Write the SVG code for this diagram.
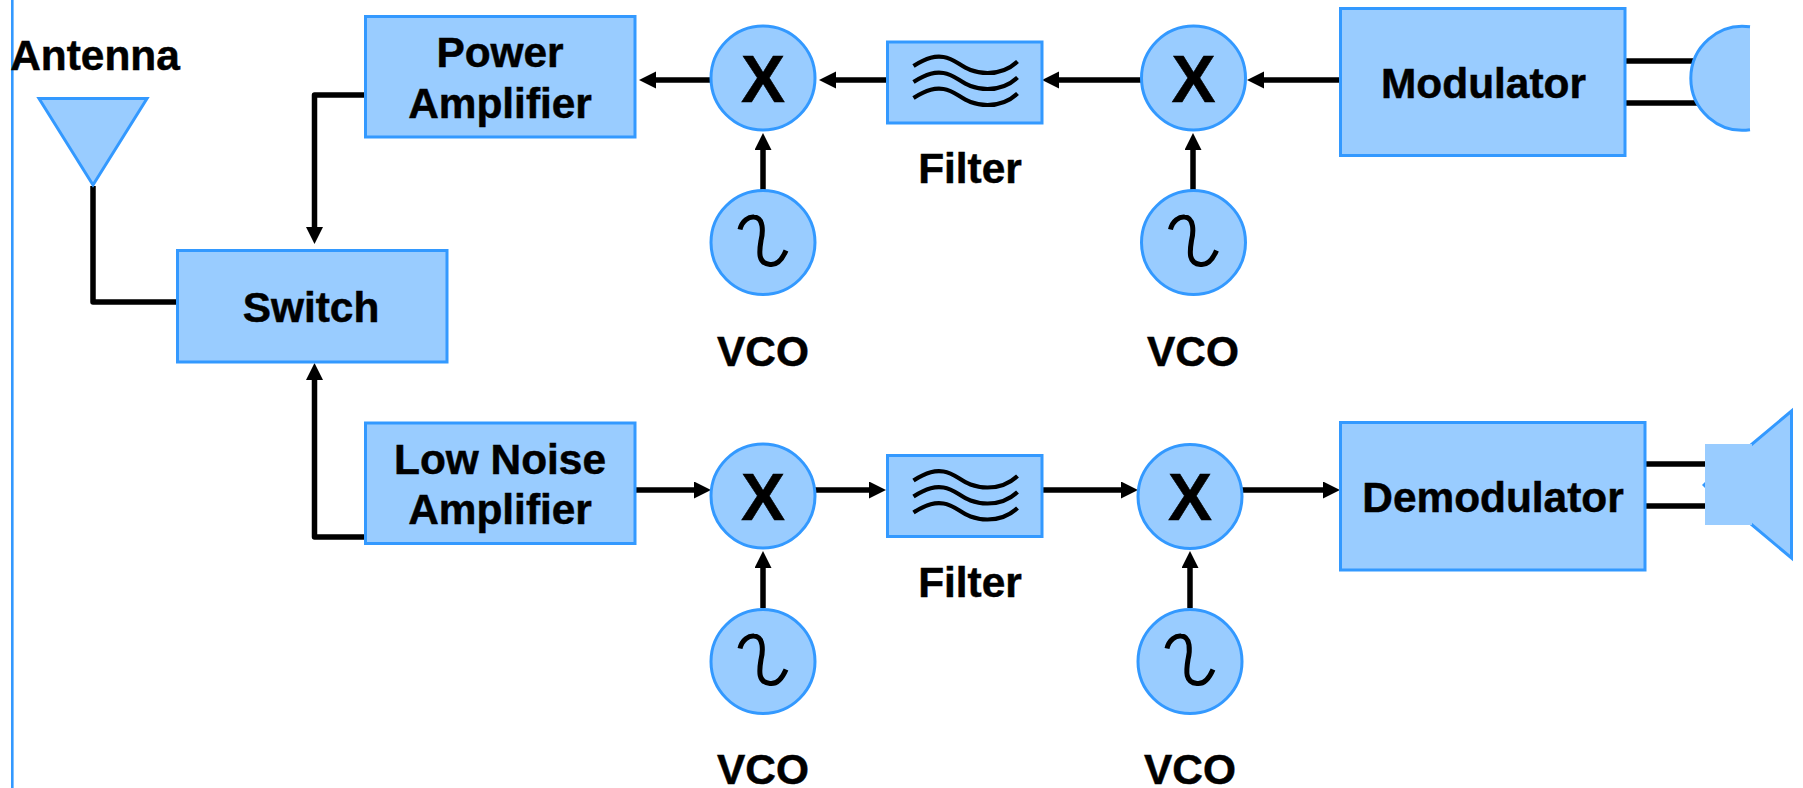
<svg xmlns="http://www.w3.org/2000/svg" width="1803" height="788" viewBox="0 0 1803 788">
<style>
.n{fill:#99CCFF;stroke:#3399FF;stroke-width:3}
.t{font-family:"Liberation Sans",Arial,sans-serif;font-weight:700;font-size:42.4px;fill:#000;stroke:#000;stroke-width:.5;text-anchor:middle}
.x{font-size:66px}
.c{fill:none;stroke:#000;stroke-width:5.5;stroke-linejoin:round}
.a{marker-end:url(#ah)}
.g{fill:none;stroke:#000;stroke-width:4.2}
.v{fill:none;stroke:#000;stroke-width:5}
</style>
<defs>
<marker id="ah" markerUnits="userSpaceOnUse" markerWidth="18" markerHeight="18" refX="0" refY="8.5" orient="auto"><polygon points="0,0 17,8.5 0,17" fill="#000"/></marker>
<path id="w" d="M0,0 C14,-9 22,-10 30,-9 C45,-7 50,7 74,7 C88,7 97,2 104,-4.5"/>
<path id="s" d="M-23,-13 C-21,-22 -14,-26 -9,-25.5 C1,-25 0,-10 -2,-2 C-4,10 -5,21 7,22 C15,23 20,15 23,8"/>
</defs>
<rect id="frame-line" x="11" y="0" width="2.6" height="788" fill="#3399FF"/>
<g id="connectors">
<path class="c" d="M93,186 V302 H177"/>
<path class="c a" d="M365,95 H314.5 V227"/>
<path class="c a" d="M365,537 H314.5 V380"/>
<path class="c a" d="M711,80 H656"/>
<path class="c a" d="M887,80 H836"/>
<path class="c a" d="M1141,80 H1059"/>
<path class="c a" d="M1340,80 H1264"/>
<path class="c a" d="M763,190 V150"/>
<path class="c a" d="M1193,190 V150"/>
<path class="c a" d="M635,490 H694"/>
<path class="c a" d="M815,490 H869"/>
<path class="c a" d="M1042,490 H1121"/>
<path class="c a" d="M1242,490 H1323"/>
<path class="c a" d="M763,608 V568"/>
<path class="c a" d="M1190,608 V568"/>
<path class="c" d="M1625,61 H1700"/>
<path class="c" d="M1625,103 H1700"/>
<path class="c" d="M1645,464 H1706"/>
<path class="c" d="M1645,506 H1706"/>
</g>
<g id="antenna"><polygon class="n" points="39,98.5 147,98.5 93,185"/><text class="t" x="95" y="70">Antenna</text></g>
<g id="switch"><rect class="n" x="177.500" y="250.500" width="269.500" height="111.500"/><text class="t" x="311" y="322">Switch</text></g>
<g id="power-amplifier"><rect class="n" x="365.500" y="16.500" width="269.500" height="120.500"/><text class="t" x="500" y="67">Power</text><text class="t" x="500" y="118">Amplifier</text></g>
<g id="low-noise-amplifier"><rect class="n" x="365.500" y="423" width="269.500" height="120.500"/><text class="t" x="500" y="474">Low Noise</text><text class="t" x="500" y="524">Amplifier</text></g>
<g id="mixer-tx-1"><circle class="n" cx="763" cy="78" r="52"/><text class="t x" x="763" y="102">X</text></g>
<g id="mixer-tx-2"><circle class="n" cx="1193.500" cy="78" r="52"/><text class="t x" x="1193.500" y="102">X</text></g>
<g id="mixer-rx-1"><circle class="n" cx="763" cy="496" r="52"/><text class="t x" x="763" y="520">X</text></g>
<g id="mixer-rx-2"><circle class="n" cx="1190" cy="496.500" r="52"/><text class="t x" x="1190" y="520">X</text></g>
<g id="vco-tx-1"><circle class="n" cx="763" cy="242.500" r="52"/><use href="#s" x="763" y="242.500" class="v"/><text class="t" x="763" y="366">VCO</text></g>
<g id="vco-tx-2"><circle class="n" cx="1193.500" cy="242.500" r="52"/><use href="#s" x="1193.500" y="242.500" class="v"/><text class="t" x="1193" y="366">VCO</text></g>
<g id="vco-rx-1"><circle class="n" cx="763" cy="661.500" r="52"/><use href="#s" x="763" y="661.500" class="v"/><text class="t" x="763" y="784">VCO</text></g>
<g id="vco-rx-2"><circle class="n" cx="1190" cy="661.500" r="52"/><use href="#s" x="1190" y="661.500" class="v"/><text class="t" x="1190" y="784">VCO</text></g>
<g id="filter-tx"><rect class="n" x="887.500" y="42" width="154.500" height="81"/><use href="#w" x="913.500" y="66" class="g"/><use href="#w" x="913.500" y="82" class="g"/><use href="#w" x="913.500" y="98" class="g"/><text class="t" x="970" y="183">Filter</text></g>
<g id="filter-rx"><rect class="n" x="887.500" y="455.500" width="154.500" height="81"/><use href="#w" x="913.500" y="480.500" class="g"/><use href="#w" x="913.500" y="496.500" class="g"/><use href="#w" x="913.500" y="512.500" class="g"/><text class="t" x="970" y="597">Filter</text></g>
<g id="modulator"><rect class="n" x="1340.500" y="8.500" width="284.500" height="147"/><text class="t" x="1483.500" y="98">Modulator</text></g>
<g id="demodulator"><rect class="n" x="1340.500" y="422.500" width="304.500" height="147.500"/><text class="t" x="1493" y="512">Demodulator</text></g>
<g id="microphone"><path d="M1750,26.800 A52,52 0 1 0 1750,129.800 Z" fill="#99CCFF"/><path d="M1750,26.800 A52,52 0 1 0 1750,129.800" fill="none" stroke="#3399FF" stroke-width="3"/></g>
<g id="speaker"><polygon points="1702,485 1706,481 1706,489" fill="#3399FF"/><polygon class="n" points="1745,450 1791.500,411 1791.500,558 1745,519"/><rect x="1705" y="444" width="47" height="81" fill="#99CCFF"/></g>
</svg>
